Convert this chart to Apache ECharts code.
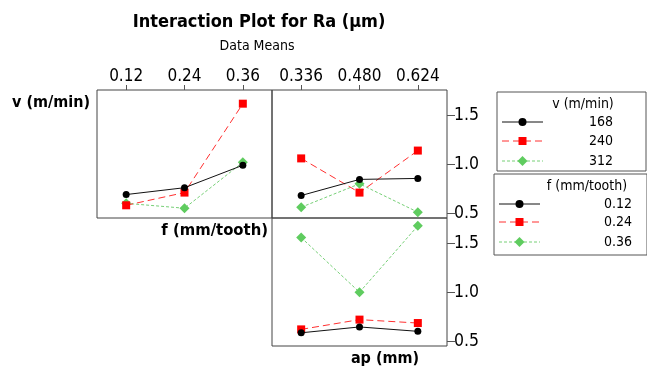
<!DOCTYPE html>
<html>
<head>
<meta charset="utf-8">
<script src="https://cdn.jsdelivr.net/npm/echarts@6/dist/echarts.min.js"></script>
<style>
  html, body { margin: 0; padding: 0; background: #fff; }
  #chart { width: 647px; height: 370px; }
</style>
</head>
<body>
<div id="chart"></div>
<script>
// factor levels
const fLevels = ['0.12', '0.24', '0.36']
const apLevels = ['0.336', '0.480', '0.624']
const vLevels = ['168', '240', '312']
const yTicks = [0.5, 1.0, 1.5]

// Ra means: v lines over f (top-left)
const vByF168 = [0.69, 0.76, 0.99]
const vByF240 = [0.58, 0.71, 1.62]
const vByF312 = [0.60, 0.55, 1.02]

// Ra means: v lines over ap (top-right)
const vByAp168 = [0.68, 0.845, 0.855]
const vByAp240 = [1.06, 0.71, 1.14]
const vByAp312 = [0.56, 0.80, 0.51]

// Ra means: f lines over ap (bottom-right)
const fByAp012 = [0.585, 0.645, 0.60]
const fByAp024 = [0.62, 0.72, 0.685]
const fByAp036 = [1.56, 1.0, 1.68]

const FONT = 'DejaVu Sans Condensed, DejaVu Sans, sans-serif'
const styles = [
  { color: '#000', line: '#111', type: 'solid', symbol: 'circle', size: 7, width: 1 },
  { color: '#ff0000', line: '#ff3030', type: [7, 4], symbol: 'rect', size: 8, width: 1 },
  { color: '#5fcc5f', line: '#77d077', type: [3, 2], symbol: 'diamond', size: 10, width: 1 }
]

let chart = echarts.init(document.getElementById('chart'))

function mkSeries(name, data, i, idx) {
  let s = styles[i]
  return {
    name: name,
    type: 'line',
    xAxisIndex: idx,
    yAxisIndex: idx,
    data: data,
    symbol: s.symbol,
    symbolSize: s.size,
    itemStyle: { color: s.color },
    lineStyle: { color: s.line, type: s.type, width: s.width },
    z: 3 - i,
    silent: true,
    animation: false
  }
}

function xAxisTop(idx, cats) {
  return {
    type: 'category',
    gridIndex: idx,
    position: 'top',
    data: cats,
    boundaryGap: true,
    axisLine: { show: false },
    axisTick: { show: true, alignWithLabel: true, length: 5, lineStyle: { color: '#555' } },
    axisLabel: { color: '#000', fontSize: 17, fontFamily: FONT, margin: 5 },
    splitLine: { show: false }
  }
}

function yAxisRight(idx) {
  return {
    type: 'value',
    gridIndex: idx,
    position: 'right',
    min: 0.45,
    max: 1.76,
    axisLine: { show: false },
    axisTick: { show: true, customValues: yTicks, length: 8, lineStyle: { color: '#555' } },
    axisLabel: {
      customValues: yTicks,
      color: '#000',
      fontSize: 17.5,
      fontFamily: FONT,
      margin: 7,
      formatter: v => v.toFixed(1)
    },
    splitLine: { show: false }
  }
}

// legend boxes, built from the level arrays
function legendBox(x, y, w, h, title, titleX, levels, lineX0, lineX1, textX, rowYs) {
  let els = [
    { type: 'rect', shape: { x: x, y: y, width: w, height: h }, style: { fill: 'none', stroke: '#555', lineWidth: 1 } },
    { type: 'text', x: titleX, y: y + 12, style: { text: title, fill: '#000', font: '14px ' + FONT, textAlign: 'center', textVerticalAlign: 'middle' } }
  ]
  levels.forEach((lv, i) => {
    let s = styles[i]
    let cy = rowYs[i]
    let mx = (lineX0 + lineX1) / 2
    els.push({ type: 'line', shape: { x1: lineX0, y1: cy, x2: lineX1, y2: cy }, style: { stroke: s.line, lineWidth: 1, lineDash: s.type === 'solid' ? null : s.type } })
    if (s.symbol === 'circle') {
      els.push({ type: 'circle', shape: { cx: mx, cy: cy, r: 4 }, style: { fill: s.color } })
    } else if (s.symbol === 'rect') {
      els.push({ type: 'rect', shape: { x: mx - 4, y: cy - 4, width: 8, height: 8 }, style: { fill: s.color } })
    } else {
      els.push({ type: 'polygon', shape: { points: [[mx, cy - 5], [mx + 5, cy], [mx, cy + 5], [mx - 5, cy]] }, style: { fill: s.color } })
    }
    els.push({ type: 'text', x: textX, y: cy, style: { text: lv, fill: '#000', font: '14px ' + FONT, textAlign: 'right', textVerticalAlign: 'middle' } })
  })
  return els
}

let gridBase = { show: true, borderColor: '#444', borderWidth: 1, backgroundColor: 'transparent', containLabel: false }

let option = {
  backgroundColor: '#fff',
  grid: [
    Object.assign({ left: 97, top: 90, width: 175, height: 128 }, gridBase),
    Object.assign({ left: 272, top: 90, width: 175, height: 128 }, gridBase),
    Object.assign({ left: 272, top: 218, width: 175, height: 128 }, gridBase)
  ],
  xAxis: [
    xAxisTop(0, fLevels),
    xAxisTop(1, apLevels),
    {
      type: 'category',
      gridIndex: 2,
      data: apLevels,
      boundaryGap: true,
      axisLine: { show: false },
      axisTick: { show: false },
      axisLabel: { show: false },
      splitLine: { show: false }
    }
  ],
  yAxis: [
    { type: 'value', gridIndex: 0, min: 0.45, max: 1.76, show: false },
    yAxisRight(1),
    yAxisRight(2)
  ],
  series: [
    mkSeries(vLevels[0], vByF168, 0, 0),
    mkSeries(vLevels[1], vByF240, 1, 0),
    mkSeries(vLevels[2], vByF312, 2, 0),
    mkSeries(vLevels[0], vByAp168, 0, 1),
    mkSeries(vLevels[1], vByAp240, 1, 1),
    mkSeries(vLevels[2], vByAp312, 2, 1),
    mkSeries(fLevels[0], fByAp012, 0, 2),
    mkSeries(fLevels[1], fByAp024, 1, 2),
    mkSeries(fLevels[2], fByAp036, 2, 2)
  ],
  graphic: [
    { type: 'text', x: 259, y: 22, style: { text: 'Interaction Plot for Ra (µm)', fill: '#000', font: 'bold 18px ' + FONT, textAlign: 'center', textVerticalAlign: 'middle' } },
    { type: 'text', x: 257, y: 46, style: { text: 'Data Means', fill: '#000', font: '14px ' + FONT, textAlign: 'center', textVerticalAlign: 'middle' } },
    { type: 'text', x: 90, y: 103, style: { text: 'v (m/min)', fill: '#000', font: 'bold 16px ' + FONT, textAlign: 'right', textVerticalAlign: 'middle' } },
    { type: 'text', x: 268, y: 231, style: { text: 'f (mm/tooth)', fill: '#000', font: 'bold 16.5px ' + FONT, textAlign: 'right', textVerticalAlign: 'middle' } },
    { type: 'text', x: 385, y: 359, style: { text: 'ap (mm)', fill: '#000', font: 'bold 16px ' + FONT, textAlign: 'center', textVerticalAlign: 'middle' } }
  ]
    .concat(legendBox(497, 92, 149, 79, 'v (m/min)', 583, vLevels, 502, 543, 613, [122, 141, 161]))
    .concat(legendBox(494, 174, 153, 81, 'f (mm/tooth)', 587, fLevels, 499, 540, 632, [204, 222, 242]))
}

chart.setOption(option)
window.addEventListener('resize', () => {
  chart.resize()
})
</script>
</body>
</html>
